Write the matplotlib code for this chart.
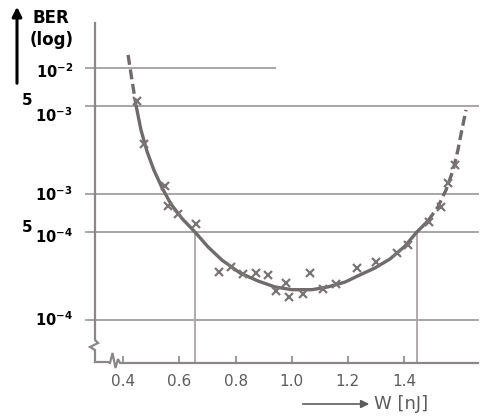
import matplotlib
matplotlib.use("Agg")
import matplotlib.pyplot as plt
import matplotlib.transforms as mtransforms

# ---------------- data ----------------
x_ticks = [0.4, 0.6, 0.8, 1.0, 1.2, 1.4]
x_tick_labels = ["0.4", "0.6", "0.8", "1.0", "1.2", "1.4"]
y_ticks = [1e-2, 5e-3, 1e-3, 5e-4, 1e-4]
y_tick_labels = [r"$\mathbf{10^{-2}}$", r"$\mathbf{10^{-3}}$", r"$\mathbf{10^{-3}}$",
                 r"$\mathbf{10^{-4}}$", r"$\mathbf{10^{-4}}$"]
y_prefix = ["", "5", "", "5", ""]

meas_w = [0.449, 0.474, 0.549, 0.559, 0.595, 0.659, 0.741, 0.784, 0.826, 0.873,
          0.916, 0.944, 0.980, 0.990, 1.040, 1.065, 1.111, 1.158, 1.233, 1.300,
          1.375, 1.414, 1.489, 1.533, 1.557, 1.582]
meas_ber = [5.5e-3, 2.5e-3, 1.16e-3, 8.0e-4, 6.9e-4, 5.8e-4, 2.4e-4, 2.64e-4, 2.32e-4, 2.36e-4,
            2.28e-4, 1.70e-4, 1.97e-4, 1.52e-4, 1.61e-4, 2.36e-4, 1.76e-4, 1.93e-4, 2.59e-4, 2.89e-4,
            3.40e-4, 3.94e-4, 6.0e-4, 7.9e-4, 1.22e-3, 1.70e-3]

curve_w = [0.417, 0.431, 0.445, 0.463, 0.485, 0.509, 0.538, 0.570, 0.609, 0.655,
           0.702, 0.752, 0.816, 0.880, 0.940, 1.001, 1.072, 1.129, 1.190, 1.243,
           1.297, 1.350, 1.403, 1.446, 1.485, 1.521, 1.550, 1.575, 1.592, 1.606, 1.621]
curve_ber = [1.27e-2, 8.0e-3, 5.1e-3, 3.22e-3, 2.16e-3, 1.55e-3, 1.12e-3, 8.3e-4, 6.4e-4, 5.0e-4,
             3.8e-4, 2.98e-4, 2.36e-4, 2.04e-4, 1.83e-4, 1.74e-4, 1.74e-4, 1.83e-4, 2.0e-4, 2.28e-4,
             2.59e-4, 3.05e-4, 3.85e-4, 5.0e-4, 6.1e-4, 7.9e-4, 1.08e-3, 1.55e-3, 2.23e-3, 3.22e-3,
             4.65e-3]

vlines_w = [0.655, 1.446]
vline_ber = 5.0e-4

# ---------------- styling ----------------
W, H = 482, 416
fig = plt.figure(figsize=(W / 100, H / 100), dpi=100)
fig.patch.set_facecolor("white")

axis_col = "#8c8787"
grid_col = "#aaa5a5"
curve_col = "#6f6b6b"
text_grey = "#5f5b5b"

px_l, px_r, px_t, px_b = 95, 478, 23, 363
ax = fig.add_axes([px_l / W, 1 - px_b / H, (px_r - px_l) / W, (px_b - px_t) / H])
ax.set_yscale("log")
ax.set_xlim(0.2992, 1.6636)
ax.set_ylim(10 ** -4.3413, 10 ** -1.6429)
for s in ax.spines.values():
    s.set_visible(False)
ax.set_facecolor("none")

# x ticks
ax.set_xticks(x_ticks)
ax.set_xticklabels(x_tick_labels, color=text_grey, fontsize=11)
ax.tick_params(axis="x", direction="in", length=5, width=1.2, color=axis_col, pad=8)

# y ticks (labels shifted individually like the original lettering)
ax.set_yticks(y_ticks)
ax.set_yticklabels(y_tick_labels, fontsize=10.5)
ax.yaxis.set_minor_locator(matplotlib.ticker.NullLocator())
ax.tick_params(axis="y", length=0, pad=16)
label_dy = [2.5, 8, -1, 3, -2]          # px downward
for lbl, dy in zip(ax.get_yticklabels(), label_dy):
    lbl.set_transform(lbl.get_transform() +
                      mtransforms.ScaledTranslation(0, -dy / 100, fig.dpi_scale_trans))

blend = mtransforms.blended_transform_factory(ax.transAxes, ax.transData)
prefix_dy = [0, -5, 0, -4, 0]
x0 = (86 - px_l) / (px_r - px_l)
for yv, pre, pdy in zip(y_ticks, y_prefix, prefix_dy):
    xend = (275 - px_l) / (px_r - px_l) if yv == 1e-2 else 1.0
    ax.plot([x0, xend], [yv, yv], color=grid_col, lw=1.4, transform=blend,
            clip_on=False, zorder=1)
    if pre:
        ax.annotate(pre, xy=(-(95 - 27) / (px_r - px_l), yv), xycoords=blend,
                    xytext=(0, -pdy * 0.72), textcoords="offset points",
                    fontsize=11, fontweight="bold", ha="center", va="center")

# vertical guide lines
ax.vlines(vlines_w, ax.get_ylim()[0], vline_ber, color=grid_col, lw=1.3, zorder=1)

# curve: dashed ends, solid middle
dash = (0, (3, 1.4))
ax.plot(curve_w[:3], curve_ber[:3], color=curve_col, lw=2.4, ls=dash, zorder=3)
ax.plot(curve_w[2:25], curve_ber[2:25], color=curve_col, lw=2.4, zorder=3,
        solid_capstyle="butt", solid_joinstyle="round")
ax.plot(curve_w[24:], curve_ber[24:], color=curve_col, lw=2.4, ls=dash, zorder=3)

# measured points
ax.plot(meas_w, meas_ber, ls="none", marker="x", ms=6, mew=1.6, color="#7a7575", zorder=4)

# ---------------- decorations in pixel space ----------------
ov = fig.add_axes([0, 0, 1, 1])
ov.set_xlim(0, W)
ov.set_ylim(H, 0)
ov.axis("off")
ov.patch.set_alpha(0)

# y axis + x axis with break marks
ov.plot([95, 95, 98, 90, 95, 95, 108, 110, 112.5, 115.5, 118, 120, px_r],
        [px_t, 340, 343, 347, 350, 362, 362, 363, 353, 368, 359, 363, 363],
        color=axis_col, lw=1.6, solid_joinstyle="miter")

# BER arrow and label
ov.annotate("", xy=(17, 4), xytext=(17, 86),
            arrowprops=dict(arrowstyle="-|>", color="black", lw=2.2, mutation_scale=14))
ov.text(32, 18, "BER", fontsize=12, fontweight="bold", ha="left", va="center")
ov.text(30, 40, "(log)", fontsize=12, fontweight="bold", ha="left", va="center")

# W arrow and label
ov.annotate("", xy=(372, 404), xytext=(300, 404),
            arrowprops=dict(arrowstyle="-|>", color=text_grey, lw=1.2, mutation_scale=12))
ov.text(374, 404, "W [nJ]", fontsize=13, color=text_grey, ha="left", va="center")

fig.savefig("out.png", dpi=100, facecolor="white")
